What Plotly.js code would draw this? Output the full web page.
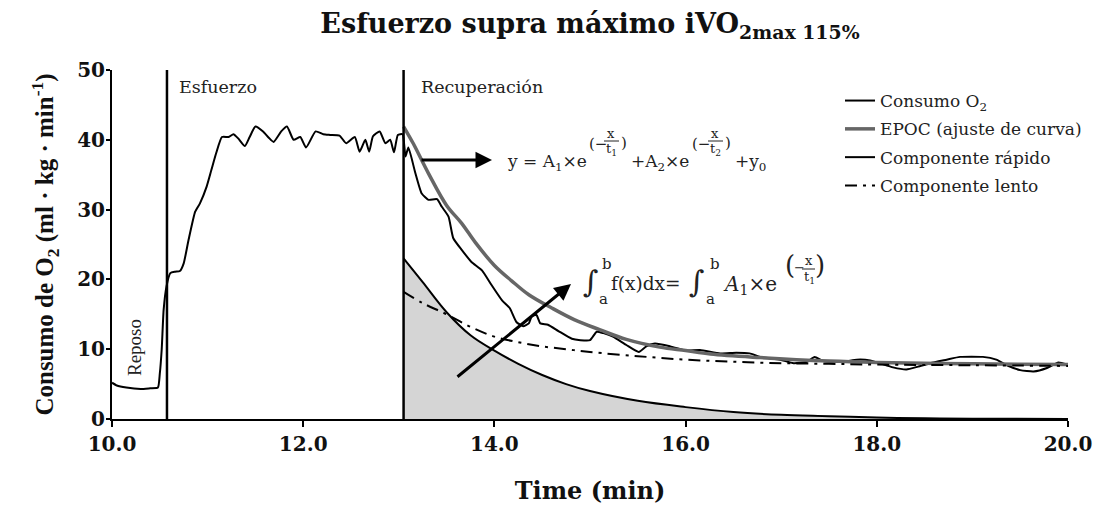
<!DOCTYPE html>
<html>
<head>
<meta charset="utf-8">
<script src="https://cdn.plot.ly/plotly-3.0.1.min.js"></script>
<style>html,body{margin:0;padding:0;background:#fff;}#chart{width:1095px;height:510px;}</style>
</head>
<body>
<div id="chart"></div>
<script>
// ---------- DATA ----------
const consumoT = [10.00,10.05,10.15,10.30,10.40,10.48,10.50,10.52,10.54,10.57,10.61,10.66,10.71,10.75,10.80,10.87,10.92,10.99,11.04,11.09,11.15,11.22,11.27,11.32,11.39,11.44,11.50,11.58,11.64,11.69,11.77,11.83,11.90,11.97,12.03,12.13,12.21,12.28,12.38,12.45,12.54,12.59,12.65,12.69,12.73,12.80,12.86,12.91,12.95,12.99,13.04,13.07,13.10,13.17,13.24,13.31,13.40,13.45,13.52,13.57,13.66,13.76,13.87,13.97,14.08,14.16,14.23,14.30,14.36,14.39,14.44,14.48,14.56,14.67,14.81,14.90,15.00,15.07,15.14,15.24,15.38,15.51,15.59,15.68,15.84,16.01,16.15,16.36,16.53,16.67,16.78,16.99,17.13,17.27,17.35,17.44,17.65,17.79,17.93,18.03,18.17,18.31,18.43,18.56,18.73,18.87,19.11,19.25,19.36,19.50,19.64,19.78,19.90,19.99];
const consumoV = [5.2,4.8,4.5,4.3,4.4,4.5,6.5,10.0,15.6,19.0,20.9,21.1,21.2,22.3,25.6,29.7,30.9,33.3,35.7,38.1,40.4,40.4,40.8,40.2,39.1,40.4,41.9,41.2,40.3,39.7,41.2,41.9,40.0,40.4,38.9,41.2,40.8,40.7,40.6,39.5,40.4,38.3,40.0,38.3,40.5,41.2,39.5,40.0,38.2,40.7,40.8,37.6,38.9,35.4,32.3,31.4,31.5,30.4,29.0,25.9,24.2,22.5,21.3,19.2,17.0,15.9,13.9,13.3,13.7,14.7,14.9,13.7,13.5,12.6,11.5,11.3,11.3,12.5,12.3,11.8,10.6,9.6,10.4,10.8,10.4,9.8,9.9,9.4,9.5,9.4,8.9,8.5,8.0,8.2,8.9,8.3,8.2,8.5,8.4,8.0,7.4,7.1,7.5,8.0,8.5,8.9,8.9,8.5,7.7,7.0,6.8,7.3,8.1,7.8];

const fitT = [13.05,13.15,13.31,13.50,13.66,13.80,14.00,14.18,14.36,14.60,14.84,15.10,15.38,15.73,16.00,16.26,16.78,17.50,18.00,19.00,20.00];
const fitV = [41.9,39.5,35.2,30.6,28.0,25.3,22.0,19.8,17.8,15.9,14.2,12.8,11.4,10.3,9.8,9.3,8.8,8.3,8.1,7.9,7.8];

const fastT = [13.05,13.25,13.50,13.75,14.00,14.25,14.50,14.75,15.00,15.50,16.00,16.50,17.00,17.50,18.00,18.50,19.00,20.00];
const fastV = [23.0,19.6,15.3,12.0,9.8,7.9,6.3,5.0,4.0,2.6,1.7,1.0,0.6,0.4,0.2,0.1,0.05,0.0];

const slowT = [13.05,13.25,13.50,13.75,14.00,14.25,14.50,14.75,15.00,15.50,16.00,16.50,17.00,17.50,18.00,19.00,20.00];
const slowV = [18.2,16.6,15.0,13.2,11.8,11.0,10.4,10.0,9.6,9.0,8.5,8.2,8.0,7.9,7.8,7.7,7.6];

const phaseTimes = [10.575, 13.05];
const xTickVals = [10, 12, 14, 16, 18, 20];
const xTickText = ['10.0', '12.0', '14.0', '16.0', '18.0', '20.0'];
const yTickVals = [0, 10, 20, 30, 40, 50];
const seriesNames = ['Consumo O<sub>2</sub>', 'EPOC (ajuste de curva)', 'Componente rápido', 'Componente lento'];

// ---------- LAYOUT HELPERS ----------
const L = 112, R = 1068, T = 70, B = 419;
const px = X => (X - L) / (R - L);
const py = Y => (B - Y) / (B - T);
const SERIF = 'DejaVu Serif';
const TIMES = 'Liberation Serif';

function txt(text, X, Y, size, extra) {
  return Object.assign({
    text: text, xref: 'paper', yref: 'paper', x: px(X), y: py(Y),
    xanchor: 'left', yanchor: 'middle', showarrow: false,
    font: {family: SERIF, size: size, color: '#222'}
  }, extra || {});
}

const traces = [
  {x: fastT, y: fastV, mode: 'lines', fill: 'tozeroy', fillcolor: '#d5d5d5', showlegend: false,
   line: {color: 'rgba(0,0,0,0)', width: 0, shape: 'spline', smoothing: 1}},
  {x: consumoT, y: consumoV, name: seriesNames[0], mode: 'lines', legendgroup: 'a',
   line: {color: '#000', width: 2, shape: 'spline', smoothing: 0.5}},
  {x: fitT, y: fitV, name: seriesNames[1], mode: 'lines', legendgroup: 'b',
   line: {color: '#666', width: 3.5, shape: 'spline', smoothing: 1}},
  {x: fastT, y: fastV, name: seriesNames[2], mode: 'lines', legendgroup: 'c',
   line: {color: '#000', width: 2, shape: 'spline', smoothing: 1}},
  {x: slowT, y: slowV, name: seriesNames[3], mode: 'lines', legendgroup: 'd',
   line: {color: '#000', width: 2, dash: '12px,6px,3px,6px', shape: 'spline', smoothing: 1}}
];

const shapes = phaseTimes.map(t => ({type: 'line', xref: 'x', yref: 'y', x0: t, x1: t, y0: 0, y1: 50,
  line: {color: '#000', width: 2.5}}));
// fraction bars of the equations
[[604, 619, 141], [708, 723, 141], [802, 815, 269]].forEach(b => shapes.push({
  type: 'line', xref: 'paper', yref: 'paper', x0: px(b[0]), x1: px(b[1]), y0: py(b[2]), y1: py(b[2]),
  line: {color: '#222', width: 1}}));

const annotations = [
  txt('Esfuerzo', 177, 87, 17.5),
  txt('Recuperación', 419, 87, 17.5),
  txt('Reposo', 134, 348, 19, {xanchor: 'center', textangle: -90, font: {family: TIMES, size: 19, color: '#222'}}),
  // equation 1
  txt('y = A<sub>1</sub>×e', 505, 162, 17),
  txt('(−', 587, 144, 15),
  txt('x', 611, 133, 13, {xanchor: 'center'}),
  txt('t<sub>1</sub>', 611, 149, 13, {xanchor: 'center'}),
  txt(')', 619, 143, 15),
  txt('+A<sub>2</sub>×e', 629, 162, 17),
  txt('(−', 690, 144, 15),
  txt('x', 715, 133, 13, {xanchor: 'center'}),
  txt('t<sub>2</sub>', 715, 149, 13, {xanchor: 'center'}),
  txt(')', 723, 143, 15),
  txt('+y<sub>0</sub>', 733, 162, 17),
  // equation 2
  txt('∫', 591, 281, 30, {xanchor: 'center'}),
  txt('b', 607, 264, 15, {xanchor: 'center'}),
  txt('a', 603, 299, 15, {xanchor: 'center'}),
  txt('f(x)dx=', 609, 283, 18.5),
  txt('∫', 697, 281, 30, {xanchor: 'center'}),
  txt('b', 715, 264, 15, {xanchor: 'center'}),
  txt('a', 710, 299, 15, {xanchor: 'center'}),
  txt('<i>A</i><sub>1</sub>×e', 721, 285, 20),
  txt('(', 790, 265, 26, {xanchor: 'center'}),
  txt('−', 799, 267, 13, {xanchor: 'center'}),
  txt('x', 809, 260, 13, {xanchor: 'center'}),
  txt('t<sub>1</sub>', 809, 277, 13, {xanchor: 'center'}),
  txt(')', 820, 265, 26, {xanchor: 'center'}),
  // arrows
  {xref: 'paper', yref: 'paper', x: px(492), y: py(160), ax: -72, ay: 0, text: '', showarrow: true,
   arrowhead: 2, arrowsize: 1.1, arrowwidth: 3, arrowcolor: '#000', standoff: 0, startstandoff: 0},
  {xref: 'paper', yref: 'paper', x: px(571), y: py(284), ax: -115, ay: 94, text: '', showarrow: true,
   arrowhead: 2, arrowsize: 1.1, arrowwidth: 3, arrowcolor: '#000', standoff: 0, startstandoff: 0}
];

const layout = {
  width: 1095, height: 510,
  margin: {l: L, r: 1095 - R, t: T, b: 510 - B, autoexpand: false},
  paper_bgcolor: '#fff', plot_bgcolor: '#fff',
  showlegend: true,
  hovermode: false,
  title: {text: 'Esfuerzo supra máximo iVO<sub>2max 115%</sub>', x: 0.5, xref: 'paper', xanchor: 'center',
          y: 0.953, yref: 'container', yanchor: 'middle',
          font: {family: SERIF, size: 27, weight: 'bold', color: '#111'}},
  legend: {x: px(840), y: py(83), xanchor: 'left', yanchor: 'top', traceorder: 'grouped', tracegroupgap: 3.2,
           bgcolor: 'rgba(0,0,0,0)', font: {family: SERIF, size: 17, color: '#222'}},
  xaxis: {range: [10, 20], tickvals: xTickVals, ticktext: xTickText, showgrid: false, zeroline: false,
          showline: true, linecolor: '#000', linewidth: 2, ticks: 'outside', ticklen: 6, tickwidth: 2, tickcolor: '#000',
          tickfont: {family: SERIF, size: 20, weight: 'bold', color: '#111'},
          title: {text: 'Time (min)', standoff: 27, font: {family: SERIF, size: 24, weight: 'bold', color: '#111'}}},
  yaxis: {range: [0, 50], tickvals: yTickVals, showgrid: false, zeroline: false,
          showline: true, linecolor: '#000', linewidth: 2, ticks: 'outside', ticklen: 4, tickwidth: 2, tickcolor: '#000',
          ticklabelstandoff: -3,
          tickfont: {family: SERIF, size: 20, weight: 'bold', color: '#111'},
          title: {text: 'Consumo de O<sub>2</sub> (ml · kg · min<sup>-1</sup>)', standoff: 16,
                  font: {family: TIMES, size: 25, weight: 'bold', color: '#111'}}},
  shapes: shapes,
  annotations: annotations
};

Plotly.newPlot('chart', traces, layout, {displayModeBar: false, staticPlot: true});
</script>
</body>
</html>
